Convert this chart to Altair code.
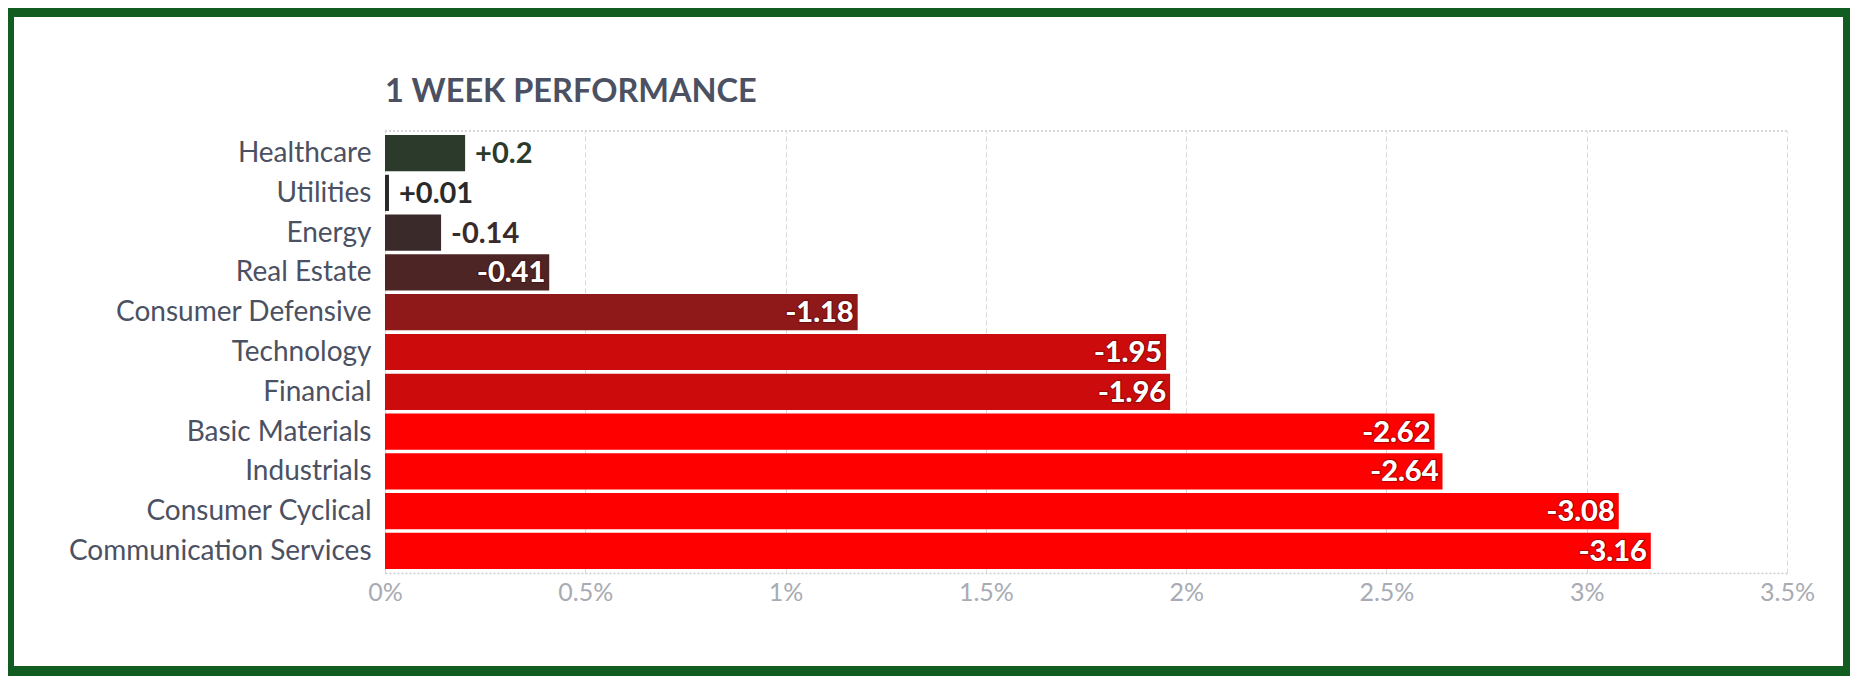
import altair as alt
import pandas as pd

categories = ["Healthcare", "Utilities", "Energy", "Real Estate", "Consumer Defensive",
              "Technology", "Financial", "Basic Materials", "Industrials",
              "Consumer Cyclical", "Communication Services"]
performance = [0.2, 0.01, -0.14, -0.41, -1.18, -1.95, -1.96, -2.62, -2.64, -3.08, -3.16]
bar_colors = ["#2b3a2b", "#2a2a2a", "#3a2a2a", "#4e2525", "#8f1818",
              "#cc0c0c", "#cc0c0c", "#fe0000", "#fe0000", "#fe0000", "#fe0000"]
x_ticks = [0, 0.5, 1, 1.5, 2, 2.5, 3, 3.5]
title_text = "1 WEEK PERFORMANCE"

df = pd.DataFrame({
    "sector": categories,
    "perf": performance,
    "color": bar_colors,
})
df["mag"] = df["perf"].abs()
df["label"] = [f"{v:+g}" for v in performance]
df["inside"] = df["mag"] > 0.3

W, H = 1402, 442
FONT = "Lato"
SLATE = "#4b5162"
GREEN = "#115c21"

base = alt.Chart(df)

y_enc = alt.Y("sector:N", sort=categories, title=None,
              scale=alt.Scale(paddingInner=0.09, paddingOuter=0.1),
              axis=alt.Axis(domain=False, ticks=False, grid=False, labelFontSize=28,
                            labelColor=SLATE, labelFont=FONT, labelPadding=14,
                            labelLimit=400, labelOffset=1))
x_enc = alt.X("mag:Q", title=None,
              scale=alt.Scale(domain=[0, 3.5], nice=False, zero=True),
              axis=alt.Axis(values=x_ticks, labelExpr="format(datum.value, '~g') + '%'",
                            labelFontSize=25, labelColor="#a8abb3", labelFont=FONT,
                            labelPadding=7, labelFlush=False, ticks=False,
                            grid=True, gridColor="#d9d9d9", gridDash=[5, 3], gridWidth=1,
                            domain=True, domainColor="#cccccc", domainDash=[2, 2],
                            domainWidth=1.5))

bars = base.mark_bar().encode(
    x=x_enc,
    y=y_enc,
    color=alt.Color("color:N", scale=None),
)

LBL = 29
inside = base.transform_filter("datum.inside")
outline = inside.mark_text(align="right", baseline="middle", dx=-4, dy=1, font=FONT,
                           fontWeight="bold", fontSize=LBL, fill="#ffffff",
                           stroke="#3a0000", strokeWidth=2.5, strokeOpacity=0.35).encode(
    x="mag:Q", y=alt.Y("sector:N", sort=categories), text="label:N")
in_labels = inside.mark_text(align="right", baseline="middle", dx=-4, dy=1, font=FONT,
                             fontWeight="bold", fontSize=LBL, color="#ffffff").encode(
    x="mag:Q", y=alt.Y("sector:N", sort=categories), text="label:N")

out_labels = base.transform_filter("!datum.inside").mark_text(
    align="left", baseline="middle", dx=10, dy=1, font=FONT, fontWeight="bold",
    fontSize=LBL).encode(
    x="mag:Q", y=alt.Y("sector:N", sort=categories), text="label:N",
    color=alt.Color("color:N", scale=None))

one = pd.DataFrame({"k": [0], "t": [title_text]})
top_rule = alt.Chart(one).mark_rule(color="#cccccc", strokeDash=[2, 2], strokeWidth=1.5).encode(
    x=alt.value(0), x2=alt.value(W), y=alt.value(0))

title_mark = alt.Chart(one).mark_text(align="left", baseline="alphabetic", font=FONT,
                                      fontSize=32.5, fontWeight="bold", color=SLATE).encode(
    x=alt.value(0), y=alt.value(-29), text="t:N")

frame = alt.Chart(one).mark_rect(fill=None, fillOpacity=0, stroke=GREEN, strokeWidth=40).encode(
    x=alt.value(-391), x2=alt.value(1478), y=alt.value(-134), y2=alt.value(555))

chart = alt.layer(bars, top_rule, outline, in_labels, out_labels, title_mark, frame).properties(
    width=W, height=H,
    autosize=alt.AutoSizeParams(type="none"),
    padding={"left": 377, "top": 123, "right": 63, "bottom": 103},
    background="#ffffff",
).configure_view(stroke=None)

chart.save("out.html", embed_options={"renderer": "svg", "actions": False})
